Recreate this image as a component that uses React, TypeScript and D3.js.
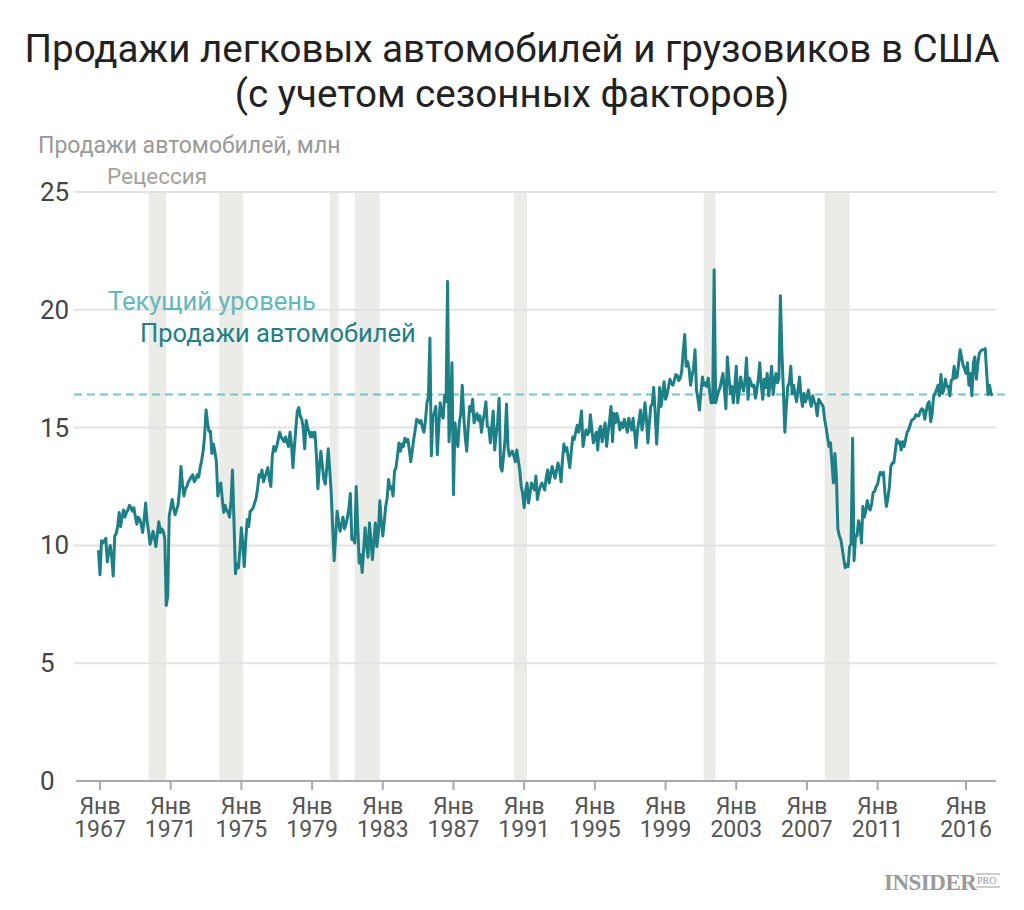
import React from "react";
import * as d3 from "d3";

// ---------- DATA ----------
const firstMonth = "1966-12"; // month of the first value
const sales1966_1969 = [
  [9.8],
  [8.75, 10.2, 10.1, 10.2, 10.3, 9.3, 9.7, 10.0, 9.5, 8.7, 10.4, 10.5],
  [10.8, 11.4, 10.8, 11.2, 11.5, 11.2, 11.4, 11.5, 11.7, 11.6, 11.45, 11.6],
  [11.2, 10.9, 11.2, 11.1, 10.9, 10.55, 11.1, 11.8, 11.0, 10.6, 10.05, 10.3],
];
const sales1970s = [
  [10.6, 10.3, 9.95, 10.5, 11.0, 10.55, 10.7, 10.6, 10.3, 7.45, 7.85, 11.25],
  [11.6, 11.95, 11.6, 11.3, 11.5, 11.7, 12.3, 13.35, 12.6, 12.1, 12.4, 12.5],
  [12.7, 12.8, 12.9, 13.0, 12.7, 12.8, 13.0, 12.9, 13.3, 13.6, 14.0, 14.6],
  [15.75, 15.2, 14.85, 14.85, 13.9, 14.3, 14.0, 13.6, 12.1, 12.5, 12.65, 12.0],
  [11.4, 11.7, 11.5, 11.4, 11.2, 11.9, 13.2, 11.0, 8.8, 9.2, 9.05, 9.8],
  [10.75, 10.0, 9.1, 10.2, 11.1, 10.8, 11.45, 11.5, 11.6, 11.8, 12.0, 12.4],
  [13.0, 12.9, 13.2, 12.7, 12.9, 13.1, 13.3, 12.8, 12.5, 13.8, 14.2, 14.0],
  [14.2, 14.5, 14.8, 14.6, 14.5, 14.4, 14.6, 14.4, 14.2, 14.8, 14.3, 13.3],
  [14.2, 15.0, 15.7, 15.85, 15.5, 15.35, 15.0, 14.1, 15.3, 15.0, 14.8, 14.6],
  [14.8, 14.6, 14.8, 13.8, 12.4, 13.3, 14.0, 13.4, 12.8, 12.6, 13.3, 14.1],
];
const sales1980s = [
  [13.2, 12.2, 10.8, 9.35, 10.4, 11.45, 11.0, 10.6, 10.9, 11.2, 10.7, 10.9],
  [11.2, 11.6, 12.2, 10.25, 10.3, 10.1, 12.5, 10.8, 9.25, 9.6, 8.85, 9.8],
  [10.75, 10.0, 9.5, 10.95, 10.2, 9.4, 10.2, 10.95, 9.95, 10.5, 11.9, 11.0],
  [10.4, 11.0, 11.65, 12.0, 12.8, 12.4, 12.5, 12.1, 13.15, 13.3, 13.8, 14.35],
  [14.0, 14.3, 14.2, 14.55, 14.4, 14.5, 14.1, 13.55, 14.0, 14.5, 14.9, 15.35],
  [15.3, 15.2, 15.3, 15.0, 14.8, 15.3, 16.05, 16.3, 18.8, 13.8, 15.5, 15.6],
  [15.9, 13.85, 15.0, 16.05, 15.6, 15.4, 16.35, 16.1, 21.2, 14.4, 15.6, 17.75],
  [12.15, 15.2, 14.6, 14.2, 15.2, 15.6, 16.8, 15.5, 14.6, 14.0, 15.0, 15.9],
  [15.7, 16.2, 15.2, 15.4, 15.6, 15.3, 15.5, 14.8, 15.3, 15.6, 16.1, 15.05],
  [15.0, 14.35, 15.0, 15.7, 14.05, 14.7, 15.2, 16.25, 13.35, 13.15, 13.8, 14.5],
];
const sales1990s = [
  [16.0, 14.15, 13.8, 13.9, 14.0, 13.8, 13.55, 14.05, 13.6, 13.2, 12.5, 12.2],
  [11.6, 12.3, 12.65, 11.8, 12.2, 12.65, 12.5, 12.35, 12.95, 11.95, 12.3, 12.5],
  [12.65, 12.5, 12.35, 12.9, 13.2, 12.65, 13.0, 13.35, 13.1, 12.85, 13.2, 13.5],
  [13.2, 12.7, 13.6, 14.3, 14.0, 14.15, 13.7, 13.3, 14.0, 14.6, 14.5, 14.8],
  [15.1, 14.8, 15.2, 15.7, 14.2, 14.6, 14.9, 14.7, 14.8, 15.55, 14.9, 14.35],
  [14.6, 14.8, 14.05, 14.9, 15.05, 14.4, 14.8, 15.2, 14.2, 14.8, 15.3, 15.9],
  [14.4, 15.6, 15.2, 15.6, 15.3, 14.9, 15.2, 15.0, 15.35, 15.1, 14.8, 15.4],
  [15.1, 14.9, 15.4, 14.8, 14.15, 14.9, 15.3, 15.75, 14.9, 15.3, 16.05, 15.4],
  [14.35, 15.2, 15.9, 16.0, 16.7, 15.6, 14.3, 15.5, 16.7, 15.9, 16.4, 16.95],
  [16.2, 16.4, 16.7, 17.05, 16.9, 16.8, 17.0, 17.25, 17.2, 17.0, 17.1, 17.4],
];
const sales2000s = [
  [18.25, 18.95, 17.6, 17.8, 17.5, 16.8, 17.2, 17.5, 18.3, 16.6, 16.2, 15.75],
  [16.5, 17.15, 16.8, 16.9, 16.75, 17.1, 16.5, 16.05, 16.05, 21.7, 16.05, 16.3],
  [16.55, 16.7, 17.0, 17.3, 16.6, 15.8, 18.0, 17.2, 16.45, 16.75, 16.05, 16.7],
  [17.6, 16.05, 16.5, 17.15, 16.8, 16.55, 17.0, 17.95, 16.2, 17.1, 16.9, 16.75],
  [16.8, 16.25, 16.6, 17.05, 17.75, 16.8, 16.2, 17.05, 16.7, 17.3, 16.35, 16.9],
  [17.6, 16.4, 16.9, 17.3, 16.9, 17.1, 20.6, 18.2, 16.6, 14.8, 15.9, 16.75],
  [16.9, 17.6, 16.45, 16.8, 16.4, 16.1, 16.6, 17.15, 16.3, 15.9, 16.45, 16.1],
  [16.3, 16.6, 16.2, 15.9, 16.35, 16.1, 16.0, 15.5, 16.2, 16.1, 16.0, 15.9],
  [15.35, 15.0, 14.6, 14.2, 14.35, 13.5, 12.65, 13.9, 12.9, 10.7, 10.4, 10.25],
  [9.85, 9.4, 9.05, 9.2, 9.1, 9.95, 10.05, 14.55, 9.35, 10.4, 10.4, 11.05],
];
const sales2010s = [
  [10.8, 10.1, 11.65, 11.2, 11.45, 11.9, 11.6, 11.5, 11.8, 12.25, 12.3, 12.5],
  [12.6, 12.95, 13.1, 13.0, 13.1, 12.2, 11.65, 12.0, 12.5, 13.35, 13.5, 13.5],
  [14.0, 14.5, 14.35, 14.4, 14.05, 14.4, 14.2, 14.5, 14.8, 14.9, 15.1, 15.3],
  [15.35, 15.4, 15.55, 15.5, 15.5, 15.7, 15.8, 15.75, 15.35, 15.7, 16.0, 16.1],
  [15.25, 15.6, 16.3, 16.45, 16.6, 16.8, 16.35, 17.25, 16.45, 16.6, 17.05, 16.75],
  [16.75, 16.35, 17.0, 17.05, 17.6, 17.1, 17.15, 17.7, 18.3, 18.0, 17.65, 17.5],
  [17.3, 17.75, 16.8, 17.3, 16.35, 17.75, 18.0, 17.05, 17.7, 18.15, 18.25, 18.3],
  [18.3, 18.35, 17.4, 16.4, 16.8, 16.45, 16.35],
];

const currentLevel = 16.4;
const recessionStarts = ["1969-10", "1973-10", "1980-01", "1981-06", "1990-06", "2001-03", "2008-01"];
const recessionEnds = ["1970-10", "1975-02", "1980-07", "1982-11", "1991-03", "2001-11", "2009-06"];
const tickYears = [1967, 1971, 1975, 1979, 1983, 1987, 1991, 1995, 1999, 2003, 2007, 2011, 2016];
const tickMonthLabel = "Янв";
const yTicks = [0, 5, 10, 15, 20, 25];

const titleLines = [
  "Продажи легковых автомобилей и грузовиков в США",
  "(с учетом сезонных факторов)",
];
const yAxisTitle = "Продажи автомобилей, млн";
const recessionLabel = "Рецессия";
const currentLabel = "Текущий уровень";
const seriesLabel = "Продажи автомобилей";

// ---------- CHART ----------
const parseMonth = d3.timeParse("%Y-%m");
const FONT = "Roboto, 'Noto Sans', sans-serif";

export default function App() {
  const start = parseMonth(firstMonth) as Date;
  const values = [...sales1966_1969, ...sales1970s, ...sales1980s, ...sales1990s, ...sales2000s, ...sales2010s].flat();
  const data = values.map((v, i) => ({ date: d3.timeMonth.offset(start, i), value: v }));

  const x = d3.scaleTime().domain([new Date(1967, 0, 1), new Date(2016, 0, 1)]).range([100, 966]);
  const y = d3.scaleLinear().domain([0, 25]).range([781, 192]);
  const gridX0 = 74;
  const gridX1 = 996;

  const line = d3
    .line<{ date: Date; value: number }>()
    .x((d) => x(d.date))
    .y((d) => y(d.value));

  const bands = recessionStarts.map((s, i) => ({
    x0: x(parseMonth(s) as Date),
    x1: x(parseMonth(recessionEnds[i]) as Date),
  }));

  return (
    <svg
      width={1024}
      height={910}
      style={{ position: "absolute", left: 0, top: 0, background: "#fff" }}
      fontFamily={FONT}
    >
      {/* title */}
      <text textAnchor="middle" fontSize={38.6} fill="#222">
        {titleLines.map((t, i) => (
          <tspan key={i} x={512} y={62 + i * 45}>
            {t}
          </tspan>
        ))}
      </text>
      <text x={38} y={153} fontSize={23} fill="#999">
        {yAxisTitle}
      </text>

      {/* recession bands */}
      {bands.map((b, i) => (
        <rect key={i} x={b.x0} y={y(25)} width={b.x1 - b.x0} height={y(0) - y(25)} fill="#ebebe7" />
      ))}
      <text x={107} y={184} fontSize={22.5} fill="#a3a29c">
        {recessionLabel}
      </text>

      {/* grid */}
      {yTicks
        .filter((t) => t > 0)
        .map((t) => (
          <line key={t} x1={gridX0} x2={gridX1} y1={y(t)} y2={y(t)} stroke="#e2e2e2" strokeWidth={2} />
        ))}
      {yTicks.map((t) => (
        <text key={t} x={40} y={y(t) + 9} fontSize={26} fill="#444">
          {t}
        </text>
      ))}

      {/* x axis */}
      <line x1={76} x2={gridX1} y1={y(0)} y2={y(0)} stroke="#aaa" strokeWidth={2} />
      {tickYears.map((yr) => {
        const tx = x(new Date(yr, 0, 1));
        return (
          <g key={yr}>
            <line x1={tx} x2={tx} y1={y(0)} y2={y(0) + 9} stroke="#aaa" strokeWidth={2} />
            <text textAnchor="middle" fontSize={23} fill="#555">
              <tspan x={tx} y={814}>{tickMonthLabel}</tspan>
              <tspan x={tx} y={837}>{yr}</tspan>
            </text>
          </g>
        );
      })}

      {/* current level */}
      <line
        x1={gridX0}
        x2={1007}
        y1={y(currentLevel)}
        y2={y(currentLevel)}
        stroke="#74c3c6"
        strokeWidth={2}
        strokeDasharray="8 5"
      />
      <text x={108} y={310} fontSize={25.5} fill="#62b8bb">
        {currentLabel}
      </text>
      <text x={140} y={342} fontSize={25.5} fill="#1d8086">
        {seriesLabel}
      </text>

      {/* series */}
      <path d={line(data) || ""} fill="none" stroke="#1d8086" strokeWidth={3} strokeLinejoin="round" />

      {/* logo */}
      <text x={884} y={890} fontSize={23} fontWeight="bold" fill="#9a9a9a" fontFamily="'Liberation Serif', serif" letterSpacing={-0.5}>
        INSIDER
      </text>
      <line x1={976} x2={1000} y1={874} y2={874} stroke="#9a9a9a" strokeWidth={1} />
      <text x={977} y={884} fontSize={10} fill="#9a9a9a" fontFamily="'Liberation Serif', serif">
        PRO
      </text>
      <line x1={976} x2={1000} y1={887} y2={887} stroke="#9a9a9a" strokeWidth={1} />
    </svg>
  );
}
